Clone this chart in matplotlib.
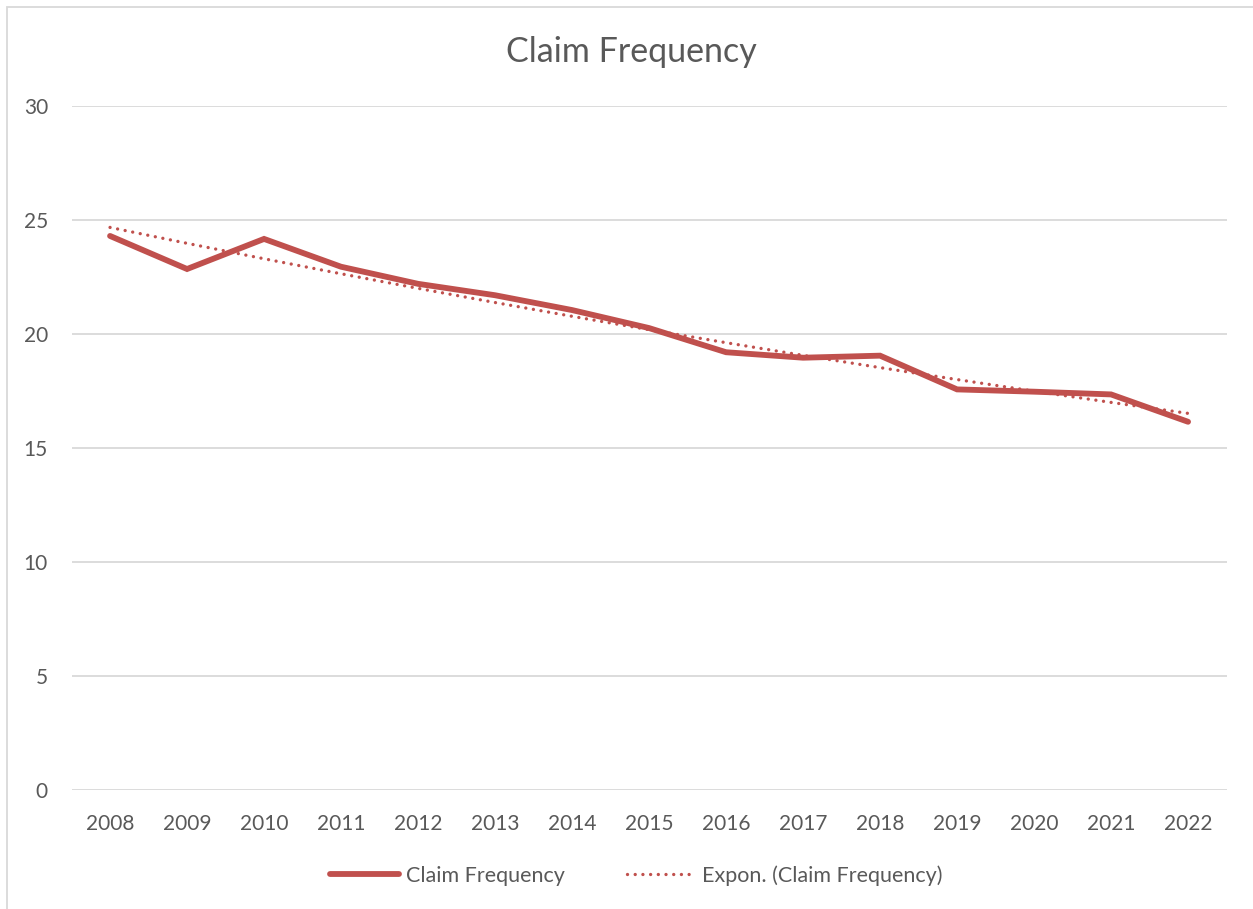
import matplotlib
matplotlib.use("Agg")
import matplotlib.pyplot as plt
from matplotlib.patches import Rectangle
import numpy as np

years = ["2008", "2009", "2010", "2011", "2012", "2013", "2014", "2015",
         "2016", "2017", "2018", "2019", "2020", "2021", "2022"]
claim_freq = [24.30, 22.85, 24.17, 22.95, 22.20, 21.70, 21.05, 20.26,
              19.20, 18.96, 19.05, 17.57, 17.47, 17.35, 16.15]

red = "#C0504D"
grey_text = "#595959"
grid_col = "#D9D9D9"

plt.rcParams["font.family"] = ["Lato", "DejaVu Sans"]

fig = plt.figure(figsize=(12.53, 9.09), dpi=100)
ax = fig.add_axes([0.0571, 0.1309, 0.9218, 0.7525])

x = np.arange(len(years))

# exponential trendline, like Excel's "Expon."
b, a = np.polyfit(x, np.log(claim_freq), 1)
trend = np.exp(a + b * x)

ax.plot(x, claim_freq, color=red, lw=4.2, solid_capstyle="round",
        solid_joinstyle="miter", label="Claim Frequency", zorder=3)
ax.plot(x, trend, color=red, lw=2.4, linestyle=(0, (0.01, 2.3)),
        dash_capstyle="round", label="Expon. (Claim Frequency)", zorder=4)

ax.set_xlim(-0.5, len(years) - 0.5)
ax.set_ylim(0, 30)
ax.set_yticks(range(0, 31, 5))
ax.set_xticks(x)
ax.set_xticklabels(years)
ax.tick_params(length=0, labelsize=15, colors=grey_text)
ax.tick_params(axis="x", pad=17)
ax.tick_params(axis="y", pad=17)
ax.yaxis.grid(True, color=grid_col, lw=1.3)
ax.set_axisbelow(True)
for s in ax.spines.values():
    s.set_visible(False)

fig.text(0.504, 0.943, "Claim Frequency", ha="center", va="center",
         fontsize=24.5, color=grey_text)

leg = fig.legend(loc="center", bbox_to_anchor=(0.508, 0.037), ncol=2,
                 frameon=False, fontsize=15.5, handlelength=3.2,
                 handletextpad=0.3, columnspacing=2.9)
for t in leg.get_texts():
    t.set_color(grey_text)

fig.patches.append(Rectangle((7 / 1253, -0.01), 1.05, 1 - 7 / 909 + 0.01,
                             transform=fig.transFigure, fill=False,
                             edgecolor=grid_col, lw=1.3))

fig.savefig("out.png", dpi=100)
